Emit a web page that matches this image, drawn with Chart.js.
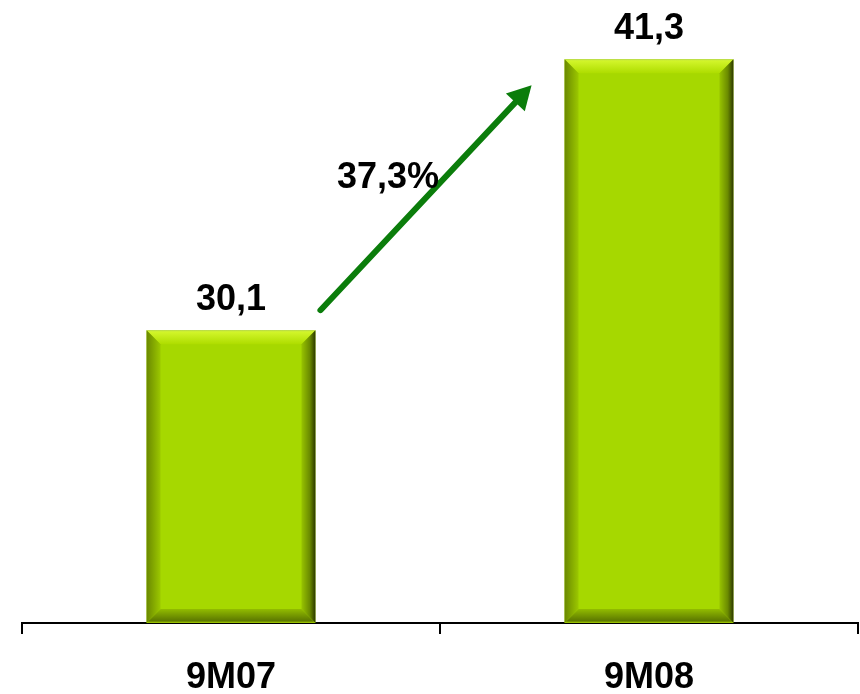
<!DOCTYPE html>
<html>
<head>
<meta charset="utf-8">
<script src="https://cdn.jsdelivr.net/npm/chart.js@4.4.1/dist/chart.umd.min.js"></script>
<style>
  html, body { margin: 0; padding: 0; background: #fff; }
  #wrap { width: 860px; height: 694px; position: relative; }
</style>
</head>
<body>
<div id="wrap"><canvas id="growthChart"></canvas></div>
<script>
// values
const periods = ["9M07", "9M08"];
const results = [30.1, 41.3];
const growthText = "37,3%";

const FONT = "'Liberation Sans', Arial, sans-serif";
const fmt = v => String(v).replace(".", ",");

// bevelled "PowerPoint" bar look
const bevelBars = {
  id: "bevelBars",
  afterDatasetsDraw(chart) {
    const c = chart.ctx;
    const meta = chart.getDatasetMeta(0);
    const bv = 14;
    meta.data.forEach(bar => {
      const { x, y, width } = bar.getProps(["x", "y", "width"], true);
      const l = x - width / 2, r = x + width / 2, t = y, b = chart.chartArea.bottom;
      const poly = (pts, fill) => {
        c.beginPath();
        c.moveTo(pts[0][0], pts[0][1]);
        pts.slice(1).forEach(p => c.lineTo(p[0], p[1]));
        c.closePath();
        c.fillStyle = fill;
        c.fill();
      };
      c.save();
      let g = c.createLinearGradient(0, t, 0, t + bv);
      g.addColorStop(0, "#b8d850");
      g.addColorStop(0.12, "#d2f52a");
      g.addColorStop(1, "#aedd00");
      poly([[l, t], [r, t], [r - bv, t + bv], [l + bv, t + bv]], g);

      g = c.createLinearGradient(l, 0, l + bv, 0);
      g.addColorStop(0, "#6a8800");
      g.addColorStop(1, "#9cc800");
      poly([[l, t], [l + bv, t + bv], [l + bv, b - bv], [l, b]], g);

      g = c.createLinearGradient(r - bv, 0, r, 0);
      g.addColorStop(0, "#98c400");
      g.addColorStop(0.6, "#6a8a00");
      g.addColorStop(1, "#2c3800");
      poly([[r, t], [r, b], [r - bv, b - bv], [r - bv, t + bv]], g);

      g = c.createLinearGradient(0, b - bv, 0, b);
      g.addColorStop(0, "#92bc00");
      g.addColorStop(0.85, "#5c7800");
      g.addColorStop(1, "#a8d400");
      poly([[l, b], [r, b], [r - bv, b - bv], [l + bv, b - bv]], g);
      c.restore();
    });
  }
};

// value labels + growth arrow
const annotations = {
  id: "annotations",
  afterDraw(chart) {
    const c = chart.ctx;
    const bars = chart.getDatasetMeta(0).data;
    c.save();
    c.fillStyle = "#000";
    c.font = "bold 36px " + FONT;
    c.textAlign = "center";
    c.textBaseline = "alphabetic";
    bars.forEach((bar, i) => {
      c.fillText(fmt(results[i]), bar.x, bar.y - 20);
    });

    const b0 = bars[0], b1 = bars[1];
    const x0 = b0.x + b0.width / 2 + 5, y0 = b0.y - 20;
    const x1 = b1.x - b1.width / 2 - 33, y1 = b1.y + 26;
    const ang = Math.atan2(y1 - y0, x1 - x0);
    const head = 27;
    c.strokeStyle = "#0b7d0b";
    c.fillStyle = "#0b7d0b";
    c.lineWidth = 6;
    c.lineCap = "round";
    c.beginPath();
    c.moveTo(x0, y0);
    c.lineTo(x1 - Math.cos(ang) * head * 0.8, y1 - Math.sin(ang) * head * 0.8);
    c.stroke();
    c.beginPath();
    c.moveTo(x1, y1);
    c.lineTo(x1 - head * Math.cos(ang - 0.5), y1 - head * Math.sin(ang - 0.5));
    c.lineTo(x1 - head * Math.cos(ang + 0.5), y1 - head * Math.sin(ang + 0.5));
    c.closePath();
    c.fill();

    const f = 0.6;
    const px = x0 + (x1 - x0) * f, py = y0 + (y1 - y0) * f;
    c.fillStyle = "#000";
    c.textAlign = "right";
    c.fillText(growthText, px - 8, py + 13);
    c.restore();
  }
};

new Chart(document.getElementById("growthChart"), {
  type: "bar",
  data: {
    labels: periods,
    datasets: [{
      data: results,
      backgroundColor: "#a6d800",
      borderWidth: 0,
      barPercentage: 0.404,
      categoryPercentage: 1
    }]
  },
  options: {
    responsive: true,
    maintainAspectRatio: false,
    animation: false,
    layout: { padding: { left: 22, right: 2, top: 18, bottom: 0 } },
    plugins: { legend: { display: false }, tooltip: { enabled: false } },
    scales: {
      x: {
        offset: true,
        grid: {
          display: true,
          offset: true,
          drawOnChartArea: false,
          drawTicks: true,
          tickLength: 11,
          color: "#000",
          lineWidth: 2
        },
        border: { display: true, color: "#000", width: 2, dash: [2, 2] },
        ticks: {
          color: "#000",
          padding: 26,
          font: { family: FONT, size: 36, weight: "bold", lineHeight: 1 }
        },
        afterFit: s => { s.height = 71; }
      },
      y: {
        display: false,
        min: 18,
        max: 43
      }
    }
  },
  plugins: [bevelBars, annotations]
});
</script>
</body>
</html>
